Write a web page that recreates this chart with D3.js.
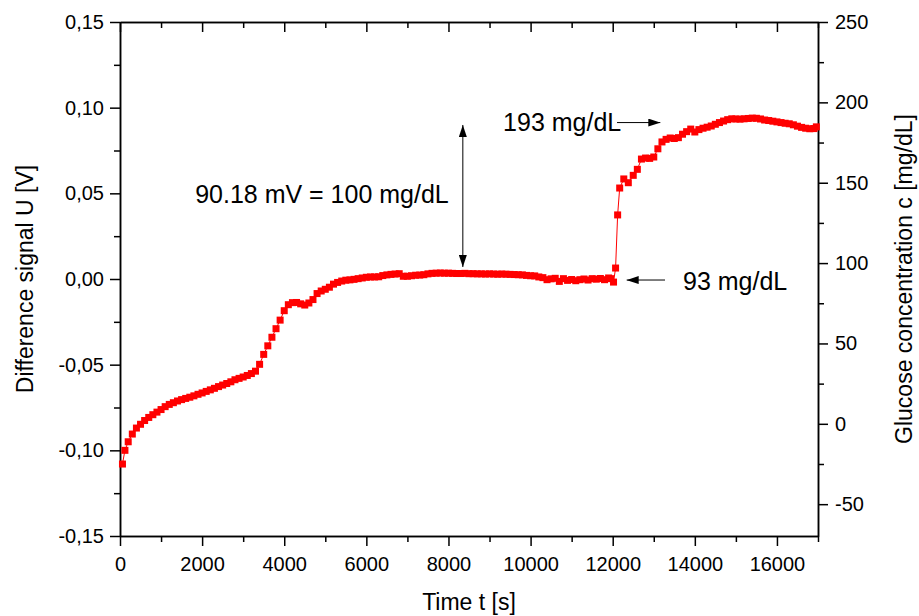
<!DOCTYPE html>
<html>
<head>
<meta charset="utf-8">
<script src="https://cdn.jsdelivr.net/npm/d3@7"></script>
<style>
  body { margin: 0; background: #fff; }
  text { font-family: Arial, "Liberation Sans", sans-serif; fill: #000; }
  .axis path, .axis line { stroke: #000; stroke-width: 1.5; }
</style>
</head>
<body>
<div id="chart"></div>
<script>
// measured series: time [s] and difference signal [V]
const timeS = [
  60, 120, 200, 300, 400, 500, 600, 700, 800, 900,
  1000, 1100, 1200, 1300, 1400, 1500, 1600, 1700, 1800, 1900,
  2000, 2100, 2200, 2300, 2400, 2500, 2600, 2700, 2800, 2900,
  3000, 3100, 3200, 3300, 3400, 3500, 3600, 3700, 3800, 3900,
  4000, 4100, 4200, 4300, 4400, 4500, 4600, 4700, 4800, 4900,
  5000, 5100, 5200, 5300, 5400, 5500, 5600, 5700, 5800, 5900,
  6000, 6100, 6200, 6300, 6400, 6500, 6600, 6700, 6800, 6900,
  7000, 7100, 7200, 7300, 7400, 7500, 7600, 7700, 7800, 7900,
  8000, 8100, 8200, 8300, 8400, 8500, 8600, 8700, 8800, 8900,
  9000, 9100, 9200, 9300, 9400, 9500, 9600, 9700, 9800, 9900,
  10000, 10100, 10200, 10300, 10400, 10500, 10600, 10700, 10800, 10900,
  11000, 11100, 11200, 11300, 11400, 11500, 11600, 11700, 11800, 11900,
  11950, 12020, 12070, 12120, 12170, 12270, 12380, 12500, 12600, 12700,
  12800, 12900, 13000, 13100, 13200, 13300, 13400, 13500, 13600, 13700,
  13800, 13900, 14000, 14100, 14200, 14300, 14400, 14500, 14600, 14700,
  14800, 14900, 15000, 15100, 15200, 15300, 15400, 15500, 15600, 15700,
  15800, 15900, 16000, 16100, 16200, 16300, 16400, 16500, 16600, 16700,
  16800, 16900, 16960
];
const signalV = [
  -0.1080, -0.1000, -0.0950, -0.0905, -0.0870, -0.0848, -0.0826, -0.0808, -0.0792, -0.0777,
  -0.0762, -0.0745, -0.0732, -0.0722, -0.0712, -0.0704, -0.0697, -0.0690, -0.0682, -0.0673,
  -0.0665, -0.0656, -0.0647, -0.0638, -0.0628, -0.0619, -0.0610, -0.0600, -0.0588, -0.0580,
  -0.0572, -0.0563, -0.0552, -0.0538, -0.0498, -0.0440, -0.0390, -0.0340, -0.0290, -0.0240,
  -0.0185, -0.0150, -0.0138, -0.0137, -0.0145, -0.0152, -0.0140, -0.0120, -0.0085, -0.0070,
  -0.0060, -0.0048, -0.0030, -0.0020, -0.0012, -0.0007, -0.0005, -0.0002, 0.0002, 0.0006,
  0.0010, 0.0012, 0.0012, 0.0013, 0.0020, 0.0024, 0.0027, 0.0029, 0.0031, 0.0016,
  0.0016, 0.0019, 0.0022, 0.0023, 0.0025, 0.0030, 0.0033, 0.0034, 0.0035, 0.0034,
  0.0034, 0.0033, 0.0032, 0.0032, 0.0033, 0.0031, 0.0031, 0.0030, 0.0030, 0.0029,
  0.0030, 0.0029, 0.0028, 0.0029, 0.0028, 0.0027, 0.0026, 0.0025, 0.0024, 0.0021,
  0.0019, 0.0018, 0.0012, 0.0008, -0.0004, 0.0001, 0.0004, -0.0014, 0.0002, -0.0008,
  -0.0003, -0.0010, -0.0004, 0.0000, -0.0006, 0.0002, -0.0001, 0.0003, -0.0004, 0.0006,
  0.0002, -0.0018, 0.0064, 0.0374, 0.0531, 0.0584, 0.0562, 0.0605, 0.0640, 0.0700,
  0.0706, 0.0704, 0.0712, 0.0760, 0.0800, 0.0815, 0.0823, 0.0820, 0.0825, 0.0845,
  0.0860, 0.0875, 0.0858, 0.0872, 0.0880, 0.0886, 0.0893, 0.0903, 0.0913, 0.0922,
  0.0930, 0.0935, 0.0934, 0.0933, 0.0935, 0.0937, 0.0939, 0.0938, 0.0934, 0.0928,
  0.0925, 0.0921, 0.0917, 0.0913, 0.0909, 0.0906, 0.0900, 0.0892, 0.0885, 0.0880,
  0.0877, 0.0878, 0.0888
];

const xTicks = [0, 2000, 4000, 6000, 8000, 10000, 12000, 14000, 16000];
const xMinorTicks = [1000, 3000, 5000, 7000, 9000, 11000, 13000, 15000, 17000];
const leftTicks = [-0.15, -0.10, -0.05, 0.00, 0.05, 0.10, 0.15];
const leftMinorTicks = [-0.125, -0.075, -0.025, 0.025, 0.075, 0.125];
const rightTicks = [-50, 0, 50, 100, 150, 200, 250];
const rightMinorTicks = [-25, 25, 75, 125, 175, 225];

const svgWidth = 919;
const svgHeight = 616;
const margin = { top: 22, right: 101, bottom: 80, left: 120 };
const width = svgWidth - margin.left - margin.right;
const height = svgHeight - margin.top - margin.bottom;

const svg = d3.select('#chart')
  .append('svg')
  .attr('width', svgWidth)
  .attr('height', svgHeight);

const defs = svg.append('defs');
defs.append('marker')
  .attr('id', 'arrow')
  .attr('viewBox', '0 0 12 8')
  .attr('refX', 12)
  .attr('refY', 4)
  .attr('markerWidth', 12)
  .attr('markerHeight', 8)
  .attr('markerUnits', 'userSpaceOnUse')
  .attr('orient', 'auto-start-reverse')
  .append('path')
  .attr('d', 'M0,0 L12,4 L0,8 Z')
  .attr('fill', '#000');

const chartGroup = svg.append('g')
  .attr('transform', `translate(${margin.left}, ${margin.top})`);

const x = d3.scaleLinear().domain([0, 17000]).range([0, width]);
const yLeft = d3.scaleLinear().domain([-0.15, 0.15]).range([height, 0]);
const yRight = d3.scaleLinear().domain([-69.8, 250]).range([height, 0]);

// plain hyphen for negatives, comma as decimal separator
const commaFmt = d => d.toFixed(2).replace('.', ',');
const intFmt = d => String(d);

// bottom axis
chartGroup.append('g')
  .attr('class', 'axis')
  .attr('transform', `translate(0, ${height})`)
  .call(d3.axisBottom(x).tickValues(xTicks).tickSize(10).tickSizeOuter(0).tickPadding(11).tickFormat(intFmt));
chartGroup.append('g')
  .attr('class', 'axis')
  .attr('transform', `translate(0, ${height})`)
  .call(d3.axisBottom(x).tickValues(xMinorTicks).tickSize(6).tickSizeOuter(0).tickFormat(''));

// top axis, ticks inward, no labels
chartGroup.append('g')
  .attr('class', 'axis')
  .call(d3.axisTop(x).tickValues(xTicks).tickSize(-10).tickSizeOuter(0).tickFormat(''));
chartGroup.append('g')
  .attr('class', 'axis')
  .call(d3.axisTop(x).tickValues(xMinorTicks).tickSize(-6).tickSizeOuter(0).tickFormat(''));

// left axis
chartGroup.append('g')
  .attr('class', 'axis')
  .call(d3.axisLeft(yLeft).tickValues(leftTicks).tickSize(10).tickSizeOuter(0).tickPadding(6).tickFormat(commaFmt));
chartGroup.append('g')
  .attr('class', 'axis')
  .call(d3.axisLeft(yLeft).tickValues(leftMinorTicks).tickSize(6).tickSizeOuter(0).tickFormat(''));

// right axis
chartGroup.append('g')
  .attr('class', 'axis')
  .attr('transform', `translate(${width}, 0)`)
  .call(d3.axisRight(yRight).tickValues(rightTicks).tickSize(10).tickSizeOuter(0).tickPadding(7).tickFormat(intFmt));
chartGroup.append('g')
  .attr('class', 'axis')
  .attr('transform', `translate(${width}, 0)`)
  .call(d3.axisRight(yRight).tickValues(rightMinorTicks).tickSize(6).tickSizeOuter(0).tickFormat(''));

chartGroup.selectAll('.axis text')
  .style('font-size', '20px')
  .style('font-family', 'Arial, "Liberation Sans", sans-serif')
  .attr('fill', '#000');

// data
const points = timeS.map((t, i) => ({ t: t, v: signalV[i] }));

const line = d3.line()
  .x(d => x(d.t))
  .y(d => yLeft(d.v));

chartGroup.append('path')
  .datum(points)
  .attr('d', line)
  .attr('fill', 'none')
  .attr('stroke', '#ff0000')
  .attr('stroke-width', 1);

const ms = 7;
chartGroup.selectAll('.pt')
  .data(points)
  .enter()
  .append('rect')
  .attr('class', 'pt')
  .attr('x', d => x(d.t) - ms / 2)
  .attr('y', d => yLeft(d.v) - ms / 2)
  .attr('width', ms)
  .attr('height', ms)
  .attr('fill', '#ff0000');

// annotations
const annoSize = '25px';

chartGroup.append('line')
  .attr('x1', x(8350)).attr('x2', x(8350))
  .attr('y1', yLeft(0.0070)).attr('y2', yLeft(0.0899))
  .attr('stroke', '#000').attr('stroke-width', 1)
  .attr('marker-start', 'url(#arrow)')
  .attr('marker-end', 'url(#arrow)');

chartGroup.append('text')
  .attr('x', x(1830))
  .attr('y', yLeft(0.0444))
  .style('font-size', annoSize)
  .text('90.18 mV = 100 mg/dL');

chartGroup.append('text')
  .attr('x', x(9330))
  .attr('y', yLeft(0.0864))
  .style('font-size', annoSize)
  .text('193 mg/dL');

chartGroup.append('line')
  .attr('x1', x(12105)).attr('x2', x(13160))
  .attr('y1', yLeft(0.0913)).attr('y2', yLeft(0.0913))
  .attr('stroke', '#000').attr('stroke-width', 1)
  .attr('marker-end', 'url(#arrow)');

chartGroup.append('text')
  .attr('x', x(13713))
  .attr('y', yLeft(-0.0064))
  .style('font-size', annoSize)
  .text('93 mg/dL');

chartGroup.append('line')
  .attr('x1', x(13274)).attr('x2', x(12340))
  .attr('y1', yLeft(-0.0006)).attr('y2', yLeft(-0.0006))
  .attr('stroke', '#000').attr('stroke-width', 1)
  .attr('marker-end', 'url(#arrow)');

// axis titles
svg.append('text')
  .attr('transform', `translate(33, ${margin.top + height / 2}) rotate(-90)`)
  .attr('text-anchor', 'middle')
  .style('font-size', '23px')
  .text('Difference signal U [V]');

svg.append('text')
  .attr('transform', `translate(912, ${margin.top + height / 2}) rotate(-90)`)
  .attr('text-anchor', 'middle')
  .style('font-size', '23px')
  .text('Glucose concentration c [mg/dL]');

svg.append('text')
  .attr('x', margin.left + width / 2)
  .attr('y', 610)
  .attr('text-anchor', 'middle')
  .style('font-size', '23px')
  .text('Time t [s]');
</script>
</body>
</html>
